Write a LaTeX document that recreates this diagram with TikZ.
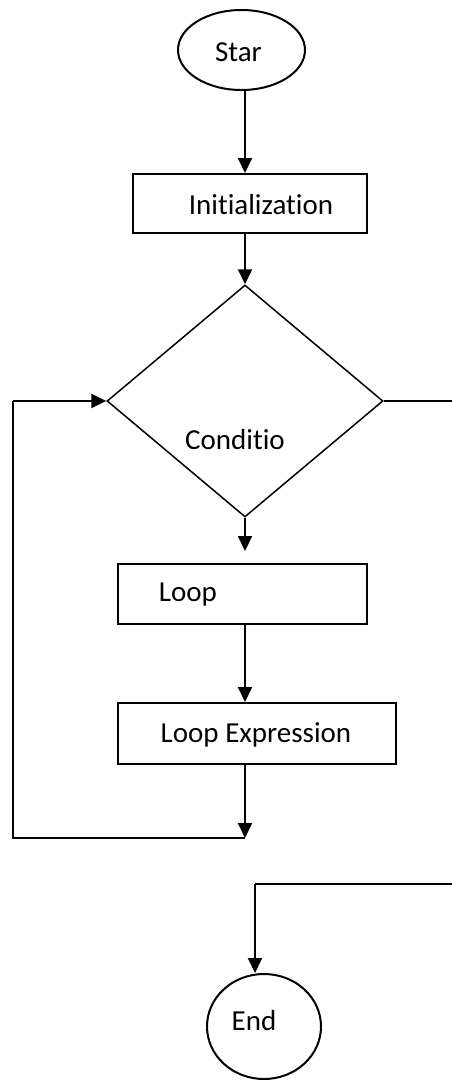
\documentclass[tikz,border=0pt]{standalone}
\usepackage{fontspec}
\setmainfont{Carlito}[Ligatures={NoCommon,NoContextual}]
\usetikzlibrary{shapes.geometric,arrows.meta,calc}
\begin{document}
\begin{tikzpicture}[x=1pt,y=-1pt,
  every node/.style={font=\fontsize{29}{34}\selectfont},
  shapeline/.style={draw=black,line width=2pt,inner sep=0pt},
  term/.style={shapeline,ellipse},
  procbox/.style={shapeline,rectangle},
  decision/.style={draw=black,line width=1.5pt,diamond,inner sep=0pt},
  conn/.style={draw=black,line width=2pt},
  arr/.style={conn,-{Triangle[length=15pt,width=14pt]}}]
\useasboundingbox (0,0) rectangle (452,1081);
\coordinate (sp) at (245,0);
% nodes
\node[term,minimum width=127pt,minimum height=80pt,
  label={[xshift=-3pt,yshift=-2pt]center:Star}] (star) at (241.5,50) {};
\node[procbox,minimum width=234pt,minimum height=59pt,
  label={[xshift=11pt,yshift=-1pt]center:Initialization}] (init) at (250,203.5) {};
\node[decision,minimum width=276pt,minimum height=232pt,
  label={[xshift=-10pt,yshift=-39pt]center:Conditio}] (cond) at (245,401) {};
\node[procbox,minimum width=249pt,minimum height=60pt,
  label={[xshift=-54.5pt,yshift=-1pt]center:Loop}] (loop) at (242.5,594) {};
\node[procbox,minimum width=278pt,minimum height=61pt,
  label={[xshift=-1pt,yshift=-1.5pt]center:Loop Expression}] (lexp) at (257,733.5) {};
\node[term,minimum width=114pt,minimum height=105pt,
  label={[xshift=-10pt,yshift=6pt]center:End}] (endn) at (264,1026.5) {};
% helper coordinates
\coordinate (b1) at (245,838);
\coordinate (b2) at (13,838);
\coordinate (b3) at (13,401);
\coordinate (r1) at (452,401);
\coordinate (r2) at (452,884);
\coordinate (r3) at (255,884);
% connectors
\draw[arr] (star.south -| sp) -- (init.north -| sp);
\draw[arr] (init.south -| sp) -- (cond.north);
\draw[arr] (cond.south) -- ([yshift=12pt]loop.north -| sp);
\draw[arr] (loop.south -| sp) -- (lexp.north -| sp);
\draw[arr] (lexp.south -| sp) -- (b1);
\draw[conn] (b1) -- (b2) -- (b3);
\draw[arr] (b3) -- (cond.west);
\draw[conn] (cond.east) -- (r1);
\draw[conn] (r2) -- (r3);
\draw[arr] (r3) -- (endn.north -| r3);
\end{tikzpicture}
\end{document}
